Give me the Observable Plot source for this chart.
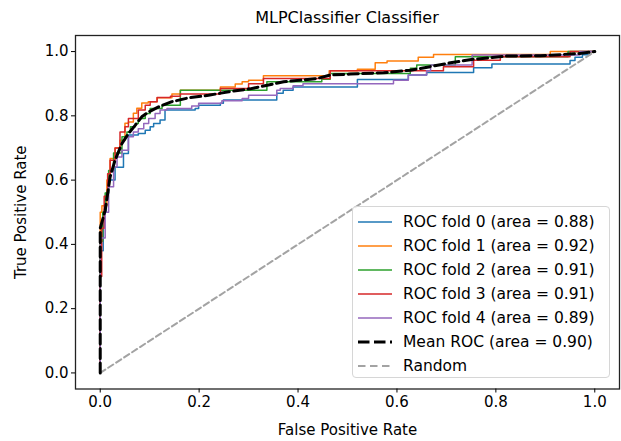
<!DOCTYPE html>
<html><head><meta charset="utf-8">
<script src="https://cdn.jsdelivr.net/npm/d3@7"></script>
<script src="https://cdn.jsdelivr.net/npm/@observablehq/plot@0.6"></script>
<style>
body{margin:0;background:#fff;}
#wrap{position:relative;width:621px;height:441px;font-family:"DejaVu Sans",sans-serif;color:#000;overflow:hidden;}
#title{position:absolute;left:75px;width:544px;top:10px;line-height:16px;text-align:center;font-size:16px;}
#chart{position:absolute;left:0;top:0;}
#legend{position:absolute;left:352px;top:206px;width:258px;height:172px;border:1px solid #d6d6d6;border-radius:4px;background:rgba(255,255,255,0.8);box-sizing:border-box;}
.row{position:absolute;left:0;height:24px;display:flex;align-items:center;font-size:15.5px;white-space:nowrap;}
.row svg{margin-left:5px;margin-right:11px;}
</style></head><body>
<div id="wrap"><div id="chart"></div><div id="title">MLPClassifier Classifier</div><div id="legend"></div></div>
<script>
const chartTitle = "MLPClassifier Classifier";
const xLabel = "False Positive Rate";
const yLabel = "True Positive Rate";
const foldAucs = [0.88, 0.92, 0.91, 0.91, 0.89];
const meanAuc = 0.90;
const foldColors = ["#1f77b4", "#ff7f0e", "#2ca02c", "#d62728", "#9467bd"];
const xTicks = [0, 0.2, 0.4, 0.6, 0.8, 1.0];
const yTicks = [0, 0.2, 0.4, 0.6, 0.8, 1.0];

const fold0Fpr = [0, 0, 0.006, 0.012, 0.017, 0.03, 0.047, 0.057, 0.077, 0.091, 0.101, 0.108, 0.121, 0.131, 0.192, 0.199, 0.243, 0.249, 0.357, 0.37, 0.39, 0.52, 0.623, 0.66, 0.755, 0.792, 0.95, 0.96, 0.975, 0.99, 1.0];
const fold0Tpr = [0, 0.38, 0.50, 0.56, 0.60, 0.64, 0.683, 0.74, 0.745, 0.755, 0.766, 0.776, 0.787, 0.818, 0.823, 0.833, 0.839, 0.849, 0.87, 0.88, 0.89, 0.913, 0.927, 0.935, 0.95, 0.961, 0.972, 0.982, 0.99, 1.0, 1.0];

const fold1Fpr = [0, 0, 0.0034, 0.0135, 0.02, 0.03, 0.04, 0.05, 0.057, 0.067, 0.074, 0.084, 0.097, 0.115, 0.145, 0.162, 0.243, 0.273, 0.287, 0.30, 0.33, 0.463, 0.52, 0.556, 0.58, 0.643, 0.674, 0.91, 1.0];
const fold1Tpr = [0, 0.50, 0.52, 0.60, 0.667, 0.70, 0.724, 0.777, 0.781, 0.808, 0.824, 0.84, 0.844, 0.856, 0.868, 0.88, 0.89, 0.899, 0.906, 0.911, 0.925, 0.94, 0.945, 0.965, 0.971, 0.982, 0.991, 1.0, 1.0];

const fold2Fpr = [0, 0, 0.005, 0.01, 0.017, 0.027, 0.044, 0.054, 0.061, 0.071, 0.077, 0.091, 0.101, 0.125, 0.162, 0.337, 0.448, 0.465, 0.627, 0.64, 0.718, 0.946, 1.0];
const fold2Tpr = [0, 0.41, 0.50, 0.56, 0.63, 0.684, 0.735, 0.75, 0.766, 0.776, 0.792, 0.807, 0.823, 0.833, 0.88, 0.906, 0.914, 0.932, 0.948, 0.958, 0.984, 1.0, 1.0];

const fold3Fpr = [0, 0, 0.003, 0.008, 0.015, 0.02, 0.03, 0.04, 0.05, 0.057, 0.077, 0.091, 0.101, 0.115, 0.142, 0.162, 0.243, 0.30, 0.33, 0.465, 0.694, 0.755, 0.809, 0.95, 1.0];
const fold3Tpr = [0, 0.30, 0.45, 0.55, 0.62, 0.662, 0.70, 0.75, 0.766, 0.792, 0.818, 0.833, 0.844, 0.857, 0.861, 0.868, 0.885, 0.90, 0.916, 0.94, 0.953, 0.973, 0.984, 1.0, 1.0];

const fold4Fpr = [0, 0, 0.01, 0.017, 0.027, 0.034, 0.044, 0.057, 0.067, 0.077, 0.088, 0.098, 0.111, 0.121, 0.135, 0.185, 0.199, 0.246, 0.287, 0.30, 0.357, 0.364, 0.39, 0.41, 0.593, 0.623, 0.66, 0.668, 0.752, 0.97, 1.0];
const fold4Tpr = [0, 0.42, 0.50, 0.579, 0.641, 0.672, 0.693, 0.735, 0.75, 0.76, 0.776, 0.792, 0.807, 0.818, 0.823, 0.831, 0.839, 0.847, 0.854, 0.864, 0.88, 0.885, 0.894, 0.90, 0.911, 0.927, 0.94, 0.958, 0.989, 1.0, 1.0];

const meanFpr = [0, 0, 0.01, 0.02, 0.03, 0.044, 0.057, 0.071, 0.084, 0.098, 0.118, 0.145, 0.179, 0.219, 0.26, 0.303, 0.371, 0.438, 0.465, 0.506, 0.573, 0.627, 0.667, 0.708, 0.755, 0.822, 0.89, 0.97, 1.0];
const meanTpr = [0, 0.45, 0.506, 0.61, 0.662, 0.714, 0.745, 0.771, 0.797, 0.812, 0.828, 0.844, 0.856, 0.864, 0.875, 0.884, 0.906, 0.916, 0.927, 0.93, 0.934, 0.942, 0.953, 0.965, 0.976, 0.986, 0.987, 0.994, 1.0];

const randomFpr = [0, 1];
const randomTpr = [0, 1];

const foldFprs = [fold0Fpr, fold1Fpr, fold2Fpr, fold3Fpr, fold4Fpr];
const foldTprs = [fold0Tpr, fold1Tpr, fold2Tpr, fold3Tpr, fold4Tpr];
const zip = (xs, ys) => xs.map((x, i) => ({x, y: ys[i]}));

const fmt = d => d.toFixed(1);
const marks = [];
foldFprs.forEach((f, k) => {
  marks.push(Plot.line(zip(f, foldTprs[k]), {x: "x", y: "y", curve: "step-after", stroke: foldColors[k], strokeWidth: 1.5}));
});
marks.push(Plot.line(zip(randomFpr, randomTpr), {x: "x", y: "y", stroke: "#a3a3a3", strokeWidth: 2, strokeDasharray: "6,3.5"}));
marks.push(Plot.line(zip(meanFpr, meanTpr), {x: "x", y: "y", stroke: "#000", strokeWidth: 3, strokeDasharray: "10,4.5"}));
marks.push(Plot.frame({stroke: "#222", strokeWidth: 1.3}));
marks.push(Plot.axisX({ticks: xTicks, tickFormat: fmt, tickSize: 4, tickPadding: 3, label: xLabel, labelAnchor: "center", labelArrow: "none", labelOffset: 46}));
marks.push(Plot.axisY({ticks: yTicks, tickFormat: fmt, tickSize: 4, tickPadding: 3, label: yLabel, labelAnchor: "center", labelArrow: "none", labelOffset: 60}));

const chart = Plot.plot({
  width: 621, height: 441,
  marginTop: 35, marginRight: 2, marginBottom: 52.5, marginLeft: 75,
  x: {domain: [-0.05, 1.05]},
  y: {domain: [-0.05, 1.05]},
  style: {fontFamily: "DejaVu Sans, sans-serif", fontSize: "15px", color: "#000", background: "transparent"},
  marks
});
document.getElementById("chart").appendChild(chart);
document.getElementById("title").textContent = chartTitle;

// legend
const legendItems = foldAucs.map((a, k) => ({label: `ROC fold ${k} (area = ${a.toFixed(2)})`, color: foldColors[k], width: 1.5, dash: null}));
legendItems.push({label: `Mean ROC (area = ${meanAuc.toFixed(2)})`, color: "#000", width: 3, dash: "11.5,4.5"});
legendItems.push({label: "Random", color: "#a3a3a3", width: 2, dash: "7.5,4.5"});
const legend = document.getElementById("legend");
legendItems.forEach((it, i) => {
  const row = document.createElement("div");
  row.className = "row";
  row.style.top = (2.5 + i * 24.05) + "px";
  const ns = "http://www.w3.org/2000/svg";
  const svg = document.createElementNS(ns, "svg");
  svg.setAttribute("width", 34); svg.setAttribute("height", 10);
  const ln = document.createElementNS(ns, "line");
  ln.setAttribute("x1", 0); ln.setAttribute("x2", 34); ln.setAttribute("y1", 5); ln.setAttribute("y2", 5);
  ln.setAttribute("stroke", it.color); ln.setAttribute("stroke-width", it.width);
  if (it.dash) ln.setAttribute("stroke-dasharray", it.dash);
  svg.appendChild(ln);
  const span = document.createElement("span");
  span.textContent = it.label;
  row.appendChild(svg); row.appendChild(span);
  legend.appendChild(row);
});
</script>
</body></html>
